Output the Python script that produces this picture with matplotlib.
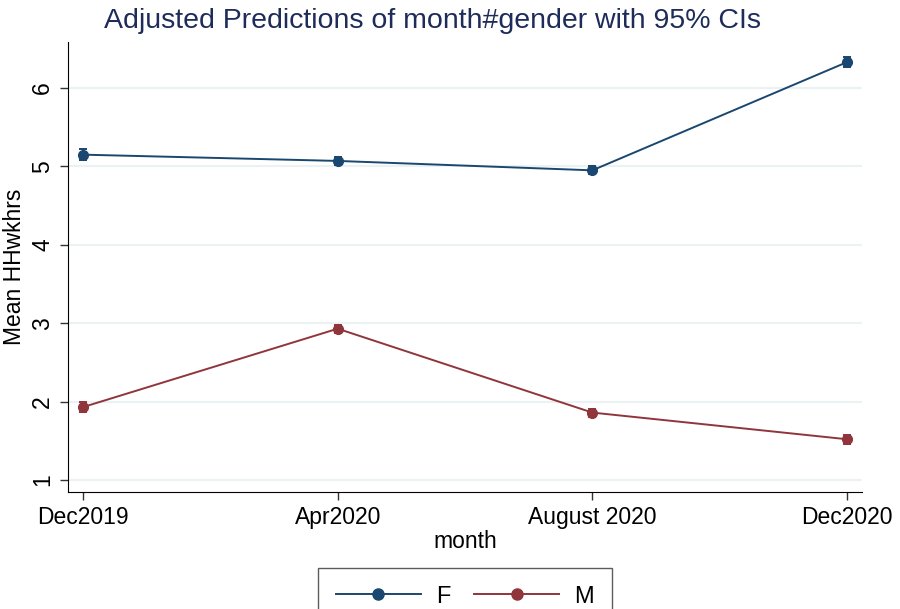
import numpy as np
import matplotlib.pyplot as plt
from matplotlib.lines import Line2D

plt.rcParams['font.family'] = ['Liberation Sans', 'DejaVu Sans']

months = ['Dec2019', 'Apr2020', 'August 2020', 'Dec2020']
f_mean = [5.15, 5.07, 4.95, 6.33]
f_ci = [0.07, 0.05, 0.05, 0.06]
m_mean = [1.93, 2.93, 1.86, 1.52]
m_ci = [0.06, 0.05, 0.05, 0.06]

navy = '#1a476f'
maroon = '#90353b'

fig = plt.figure(figsize=(9, 6.09), dpi=100)
ax = fig.add_axes([68 / 900, 1 - 492 / 609, 794 / 900, 450 / 609])

x = np.arange(len(months))
handles = []
for ys, ci, c, lab in [(f_mean, f_ci, navy, 'F'), (m_mean, m_ci, maroon, 'M')]:
    ax.errorbar(x, ys, yerr=ci, color=c, lw=1.4, marker='o', ms=7,
                capsize=3, elinewidth=1.4, capthick=1.4, zorder=3)
    handles.append(Line2D([], [], color=c, lw=1.4, marker='o', ms=8, label=lab))

ax.set_xlim(-0.059, 3.059)
ax.set_ylim(0.847, 6.587)
ax.set_xticks(x)
ax.set_xticklabels(months, fontsize=16.5)
ax.set_yticks(range(1, 7))
ax.set_yticklabels([str(v) for v in range(1, 7)], fontsize=16.5, rotation=90, va='center')
ax.grid(axis='y', color='#eaf2f3', lw=1.5, zorder=0)
ax.spines['top'].set_visible(False)
ax.spines['right'].set_visible(False)
ax.tick_params(length=6, width=1, color='#333333', pad=4)
ax.set_xlabel('month', fontsize=16.5, labelpad=1)
ax.set_ylabel('Mean HHwkhrs', fontsize=16.5)
ax.yaxis.set_label_coords(-0.053, 0.5)

fig.text(432 / 900, 1 - 21 / 609, 'Adjusted Predictions of month#gender with 95% CIs',
         ha='center', va='center', fontsize=20.5, color='#1e2c5a')

leg = ax.legend(handles=handles, loc='upper center',
                bbox_to_anchor=(465 / 900, 1 - 568 / 609),
                bbox_transform=fig.transFigure, ncol=2, fontsize=17,
                frameon=True, fancybox=False, edgecolor='#333333',
                handlelength=3.6, handletextpad=0.65, columnspacing=1.0,
                borderpad=0.75, borderaxespad=0)
leg.get_frame().set_linewidth(1)

fig.savefig('out.png', dpi=100)
